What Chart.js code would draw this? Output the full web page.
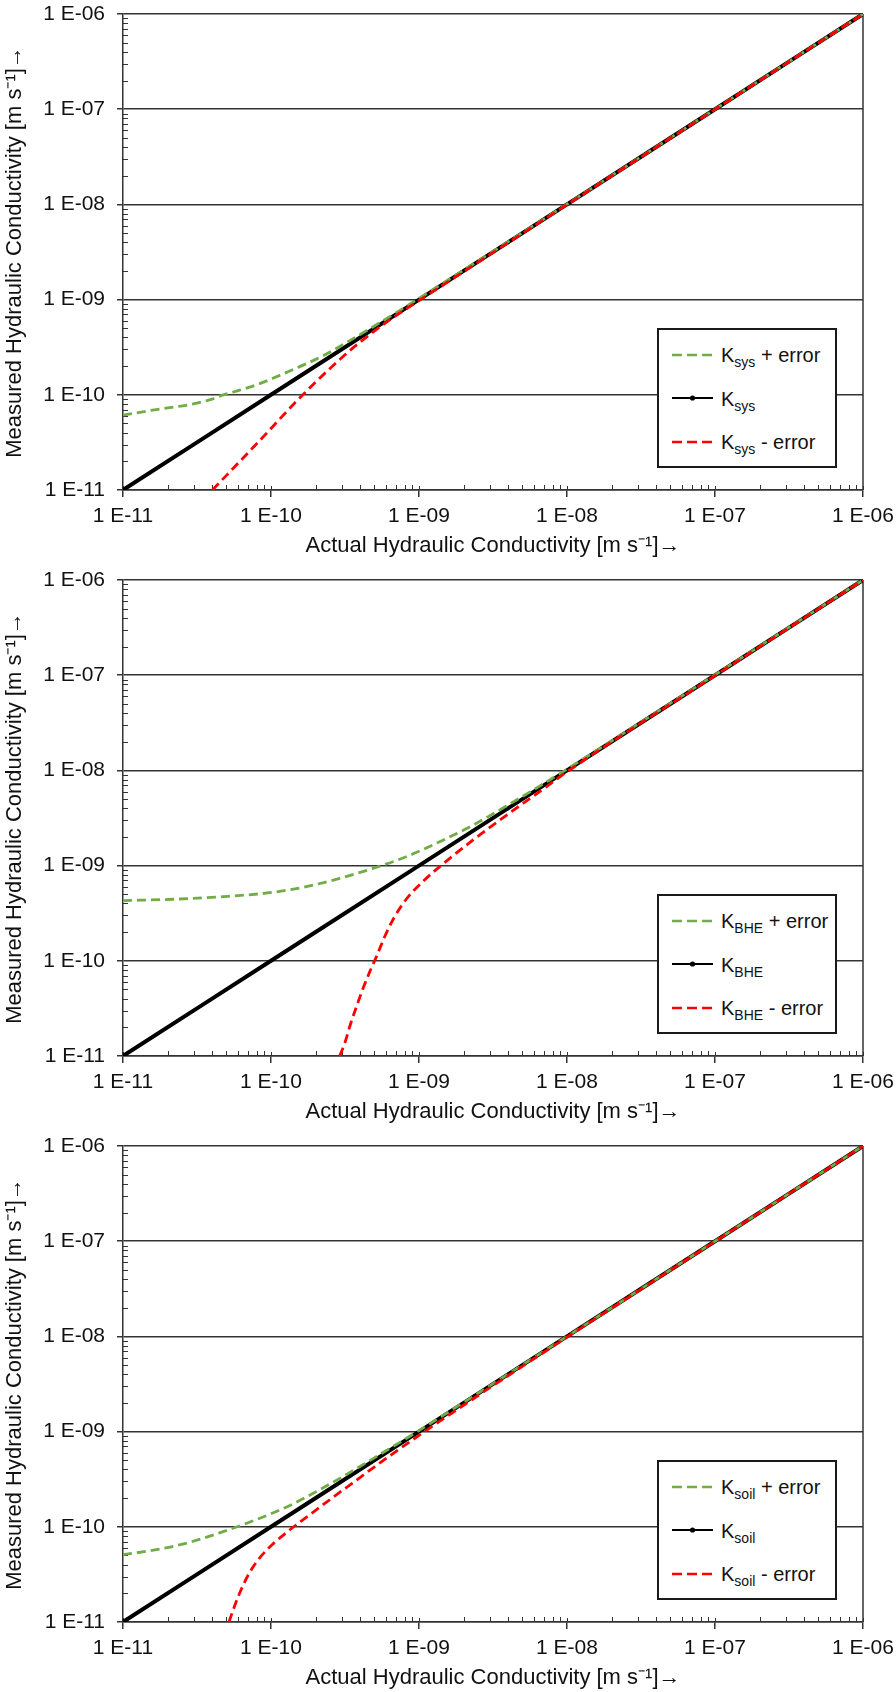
<!DOCTYPE html>
<html lang="en">
  <head>
    <meta charset="UTF-8" />
    <meta name="viewport" content="width=device-width, initial-scale=1.0" />
    <title>Measured vs. actual hydraulic conductivity</title>
    <script src="https://cdn.jsdelivr.net/npm/chart.js"></script>
    <style>
      body { margin: 0; background: #fff; overflow: hidden; font-family: "Liberation Sans", Arial, sans-serif; }
      .painel { position: relative; width: 896px; height: 566px; }
      .legenda { position: absolute; left: 657px; top: 328px; width: 176px; height: 136px; border: 2px solid #1a1a1a; background: #fff; }
      .legenda .item { position: absolute; left: 13px; height: 24px; line-height: 24px; font-size: 20px; color: #111; white-space: nowrap; }
      .legenda svg { vertical-align: middle; margin-right: 8px; position: relative; top: -2px; }
      .legenda sub { font-size: 14px; vertical-align: -5px; line-height: 0; }
    </style>
  </head>

  <body>
    <div class="painel">
      <canvas id="grafico1" width="896" height="566"></canvas>
      <div class="legenda" id="legenda1"></div>
    </div>
    <div class="painel">
      <canvas id="grafico2" width="896" height="566"></canvas>
      <div class="legenda" id="legenda2"></div>
    </div>
    <div class="painel">
      <canvas id="grafico3" width="896" height="566"></canvas>
      <div class="legenda" id="legenda3"></div>
    </div>
  </body>
</html>

<script>
  // eixos logaritmicos: uma marca grande por decada, marcas pequenas em 2..9
  const decadas = [1e-11, 1e-10, 1e-9, 1e-8, 1e-7, 1e-6];
  const menores = [2, 3, 4, 5, 6, 7, 8, 9];

  const sysMaisX = [1e-11, 1.68e-11, 2.82e-11, 3.95e-11, 4.5e-11, 6.14e-11, 7.96e-11, 1.03e-10, 1.34e-10, 2.24e-10, 3.78e-10, 6.34e-10, 9.6e-10, 1e-8, 1e-7, 1e-6];
  const sysMaisY = [6.1e-11, 7.0e-11, 7.9e-11, 8.95e-11, 9.7e-11, 1.12e-10, 1.27e-10, 1.49e-10, 1.78e-10, 2.56e-10, 4.08e-10, 6.62e-10, 9.9e-10, 1.005e-8, 1.0e-7, 1e-6];
  const sysX = [1e-11, 1e-10, 1e-9, 1e-8, 1e-7, 1e-6];
  const sysY = [1e-11, 1e-10, 1e-9, 1e-8, 1e-7, 1e-6];
  const sysMenosX = [4.02e-11, 7.94e-11, 1.64e-10, 3.16e-10, 3.98e-10, 6.31e-10, 1e-9, 1.78e-9, 1e-8, 1e-7, 1e-6];
  const sysMenosY = [1e-11, 3.02e-11, 1e-10, 2.63e-10, 3.55e-10, 6.1e-10, 9.77e-10, 1.75e-9, 9.93e-9, 9.95e-8, 1e-6];

  const bheMaisX = [1e-11, 2.18e-11, 4.74e-11, 1.03e-10, 1.73e-10, 2.91e-10, 4.89e-10, 8.2e-10, 1.38e-9, 2.32e-9, 3.89e-9, 6.53e-9, 1.04e-8, 1e-7, 1e-6];
  const bheMaisY = [4.29e-10, 4.43e-10, 4.72e-10, 5.24e-10, 6.01e-10, 7.35e-10, 9.35e-10, 1.24e-9, 1.78e-9, 2.66e-9, 4.22e-9, 6.84e-9, 1.07e-8, 1.01e-7, 1e-6];
  const bheX = [1e-11, 1e-10, 1e-9, 1e-8, 1e-7, 1e-6];
  const bheY = [1e-11, 1e-10, 1e-9, 1e-8, 1e-7, 1e-6];
  const bheMenosX = [2.91e-10, 3.15e-10, 3.40e-10, 3.78e-10, 4.19e-10, 4.65e-10, 5.15e-10, 5.86e-10, 6.85e-10, 8.2e-10, 1.06e-9, 1.45e-9, 2.32e-9, 3.89e-9, 6.53e-9, 1.04e-8, 1e-7, 1e-6];
  const bheMenosY = [1e-11, 1.36e-11, 2.03e-11, 3.30e-11, 5.14e-11, 7.69e-11, 1.10e-10, 1.79e-10, 2.91e-10, 4.43e-10, 6.78e-10, 1.04e-9, 1.86e-9, 3.37e-9, 5.98e-9, 1.01e-8, 9.89e-8, 1e-6];

  const soilMaisX = [1e-11, 1.68e-11, 2.82e-11, 4.74e-11, 7.96e-11, 1.34e-10, 2.24e-10, 3.78e-10, 6.34e-10, 9.6e-10, 1e-8, 1e-7, 1e-6];
  const soilMaisY = [5.09e-11, 5.75e-11, 6.87e-11, 8.89e-11, 1.19e-10, 1.675e-10, 2.56e-10, 4.09e-10, 6.64e-10, 9.86e-10, 1.0e-8, 1.0e-7, 1e-6];
  const soilX = [1e-11, 1e-10, 1e-9, 1e-8, 1e-7, 1e-6];
  const soilY = [1e-11, 1e-10, 1e-9, 1e-8, 1e-7, 1e-6];
  const soilMenosX = [5.2e-11, 5.69e-11, 6.31e-11, 7.18e-11, 8.38e-11, 1.03e-10, 1.27e-10, 1.585e-10, 2.0e-10, 2.51e-10, 3.55e-10, 5.01e-10, 7.08e-10, 1e-9, 2.24e-9, 1e-8, 1e-7, 1e-6];
  const soilMenosY = [1e-11, 1.49e-11, 2.22e-11, 3.33e-11, 4.71e-11, 6.59e-11, 8.69e-11, 1.135e-10, 1.486e-10, 1.94e-10, 2.88e-10, 4.27e-10, 6.28e-10, 9.12e-10, 2.13e-9, 9.82e-9, 9.95e-8, 1e-6];

  // textos: [base, indice, resto]
  const rotulosSys = [["K", "sys", " + error"], ["K", "sys", ""], ["K", "sys", " - error"]];
  const rotulosBhe = [["K", "BHE", " + error"], ["K", "BHE", ""], ["K", "BHE", " - error"]];
  const rotulosSoil = [["K", "soil", " + error"], ["K", "soil", ""], ["K", "soil", " - error"]];

  const tituloX = "Actual Hydraulic Conductivity [m s\u207B\u00B9]\u2192";
  const tituloY = "Measured Hydraulic Conductivity [m s\u207B\u00B9]\u2192";

  const fonte = '"Liberation Sans", Arial, sans-serif';
  const estilos = [
    { cor: "#70ad47", largura: 2.8, tracejado: [9, 5], ordem: 2 },
    { cor: "#000000", largura: 4, tracejado: [], ordem: 3 },
    { cor: "#ff0000", largura: 2.8, tracejado: [9, 5], ordem: 1 }
  ];

  function pontos(xs, ys) {
    return xs.map(function (x, i) { return { x: x, y: ys[i] }; });
  }

  function rotuloTick(valor) {
    var exp = Math.round(Math.log10(valor));
    return "1 E-" + String(-exp).padStart(2, "0");
  }

  function ticksDecadas(scale) {
    scale.ticks = decadas.map(function (v) { return { value: v, major: true }; });
  }

  // marcas pequenas para dentro e borda direita da area do grafico
  const marcasMenores = {
    id: "marcasMenores",
    beforeDatasetsDraw(chart) {
      const ctx = chart.ctx;
      const a = chart.chartArea;
      const sx = chart.scales.x;
      const sy = chart.scales.y;
      ctx.save();
      ctx.strokeStyle = "#333";
      ctx.lineWidth = 1;
      ctx.beginPath();
      decadas.slice(0, -1).forEach(function (d) {
        menores.forEach(function (m) {
          var px = Math.round(sx.getPixelForValue(d * m)) + 0.5;
          ctx.moveTo(px, a.bottom);
          ctx.lineTo(px, a.bottom - 5);
          var py = Math.round(sy.getPixelForValue(d * m)) + 0.5;
          ctx.moveTo(a.left, py);
          ctx.lineTo(a.left + 5, py);
        });
      });
      decadas.forEach(function (d) {
        var px = Math.round(sx.getPixelForValue(d)) + 0.5;
        ctx.moveTo(px, a.bottom);
        ctx.lineTo(px, a.bottom - 4);
      });
      ctx.stroke();
      ctx.lineWidth = 1.5;
      ctx.beginPath();
      ctx.moveTo(a.right, a.top);
      ctx.lineTo(a.right, a.bottom);
      ctx.stroke();
      ctx.restore();
    }
  };

  function amostra(estilo) {
    if (estilo.tracejado.length) {
      return '<svg width="41" height="10"><line x1="0" y1="5" x2="41" y2="5" stroke="' + estilo.cor +
        '" stroke-width="2.5" stroke-dasharray="10 5"/></svg>';
    }
    return '<svg width="41" height="10"><line x1="0" y1="5" x2="41" y2="5" stroke="' + estilo.cor +
      '" stroke-width="2"/><circle cx="20.5" cy="5" r="2.6" fill="' + estilo.cor + '"/></svg>';
  }

  function montarLegenda(idLegenda, rotulos) {
    var caixa = document.getElementById(idLegenda);
    rotulos.forEach(function (r, i) {
      var item = document.createElement("div");
      item.className = "item";
      item.style.top = (13 + i * 43.5) + "px";
      item.innerHTML = amostra(estilos[i]) + r[0] + "<sub>" + r[1] + "</sub>" + r[2];
      caixa.appendChild(item);
    });
  }

  function desenharPainel(idCanvas, idLegenda, series, rotulos) {
    const ctx = document.getElementById(idCanvas);
    new Chart(ctx, {
      type: "scatter",
      data: {
        datasets: series.map(function (s, i) {
          return {
            label: rotulos[i].join(""),
            data: pontos(s[0], s[1]),
            showLine: true,
            borderColor: estilos[i].cor,
            backgroundColor: estilos[i].cor,
            borderWidth: estilos[i].largura,
            borderDash: estilos[i].tracejado,
            pointRadius: 0,
            cubicInterpolationMode: "monotone",
            order: estilos[i].ordem
          };
        })
      },
      options: {
        responsive: false,
        animation: false,
        layout: { padding: { top: 14, right: 33, left: 0, bottom: 0 } },
        plugins: { legend: { display: false }, tooltip: { enabled: false } },
        scales: {
          x: {
            type: "logarithmic",
            min: 1e-11,
            max: 1e-6,
            afterBuildTicks: ticksDecadas,
            // area do grafico fixa: 123..863 na horizontal
            afterFit: function (s) { s.height = 76; s.paddingLeft = 0; s.paddingRight = 0; },
            grid: { drawOnChartArea: false, drawTicks: true, tickLength: 7, color: "#333", lineWidth: 1.5 },
            border: { display: true, color: "#333", width: 1.5 },
            ticks: { callback: rotuloTick, autoSkip: false, maxRotation: 0, padding: 7, color: "#111", font: { family: fonte, size: 21 } },
            title: { display: true, text: tituloX, color: "#111", font: { family: fonte, size: 22 }, padding: { top: 0, bottom: 7 } }
          },
          y: {
            type: "logarithmic",
            min: 1e-11,
            max: 1e-6,
            afterBuildTicks: ticksDecadas,
            afterFit: function (s) { s.width = 123; s.paddingTop = 0; s.paddingBottom = 0; },
            grid: { drawOnChartArea: true, drawTicks: true, tickLength: 6, color: "#333", lineWidth: 1.5 },
            border: { display: true, color: "#333", width: 1.5 },
            ticks: { callback: rotuloTick, autoSkip: false, padding: 12, color: "#111", font: { family: fonte, size: 21 } },
            title: { display: true, text: tituloY, color: "#111", font: { family: fonte, size: 22 }, padding: { top: 2, bottom: 0 } }
          }
        }
      },
      plugins: [marcasMenores]
    });
    montarLegenda(idLegenda, rotulos);
  }

  desenharPainel("grafico1", "legenda1",
    [[sysMaisX, sysMaisY], [sysX, sysY], [sysMenosX, sysMenosY]], rotulosSys);
  desenharPainel("grafico2", "legenda2",
    [[bheMaisX, bheMaisY], [bheX, bheY], [bheMenosX, bheMenosY]], rotulosBhe);
  desenharPainel("grafico3", "legenda3",
    [[soilMaisX, soilMaisY], [soilX, soilY], [soilMenosX, soilMenosY]], rotulosSoil);
</script>
